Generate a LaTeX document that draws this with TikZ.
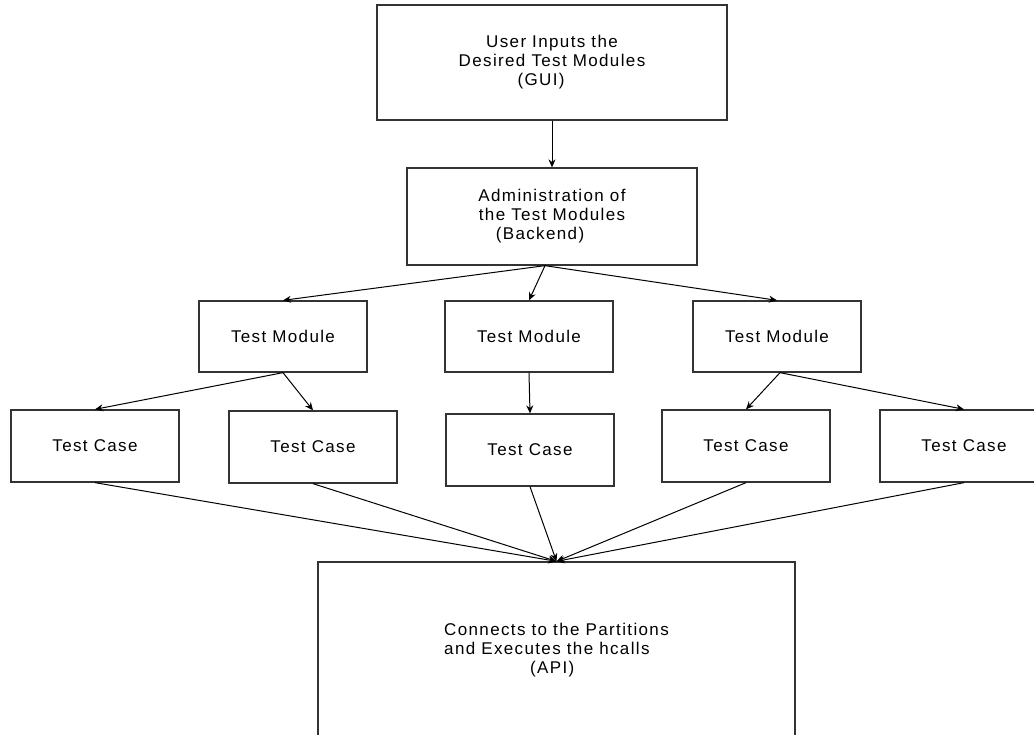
\documentclass[tikz,border=0pt]{standalone}
\usepackage{fontspec}
\setmainfont{Liberation Sans}[LetterSpace=8]
\usetikzlibrary{arrows.meta}
\begin{document}
\begin{tikzpicture}[x=1pt,y=-1pt,
  box/.style={draw=black!80,line width=1.3pt,inner sep=0pt,font=\fontsize{17}{19}\selectfont},
  tm/.style={box,minimum width=168pt,minimum height=71pt},
  tc/.style={box,minimum width=168pt,minimum height=72pt},
  conn/.style={line width=1pt,-{Stealth[length=8pt,width=7pt]}}]
\useasboundingbox (0,0) rectangle (1034,735);
\fill[white] (0,0) rectangle (1034,735);
\node[box,minimum width=350pt,minimum height=115pt,align=center] (gui) at (552,62.5)
  {User Inputs the\\Desired Test Modules\\\hspace*{-22pt}(GUI)};
\node[box,minimum width=290pt,minimum height=97pt,align=center] (adm) at (552,216.5)
  {Administration of\\the Test Modules\\\hspace*{-24pt}(Backend)};
\node[tm] (tm1) at (283,336.5) {Test Module};
\node[tm] (tm2) at (529,336.5) {Test Module};
\node[tm] (tm3) at (777,336.5) {Test Module};
\node[tc] (tc1) at (95,446) {Test Case};
\node[tc] (tc2) at (313,447) {Test Case};
\node[tc] (tc3) at (530,450) {Test Case};
\node[tc] (tc4) at (746,446) {Test Case};
\node[tc] (tc5) at (964,446) {Test Case};
\node[box,minimum width=477pt,minimum height=176pt,align=left] (api) at (556.5,650)
  {Connects to the Partitions\\and Executes the hcalls\\\hspace*{86pt}(API)};
\coordinate (as) at ([xshift=-7pt]adm.south);
\draw[conn] (gui.south) -- (adm.north);
\draw[conn] (as) -- (tm1.north);
\draw[conn] (as) -- (tm2.north);
\draw[conn] (as) -- (tm3.north);
\draw[conn] (tm1.south) -- (tc1.north);
\draw[conn] (tm1.south) -- (tc2.north);
\draw[conn] (tm2.south) -- (tc3.north);
\draw[conn] ([xshift=3pt]tm3.south) -- (tc4.north);
\draw[conn] ([xshift=3pt]tm3.south) -- (tc5.north);
\foreach \t in {tc1,tc2,tc3,tc4,tc5}
  \draw[conn] (\t.south) -- (api.north);
\end{tikzpicture}
\end{document}
